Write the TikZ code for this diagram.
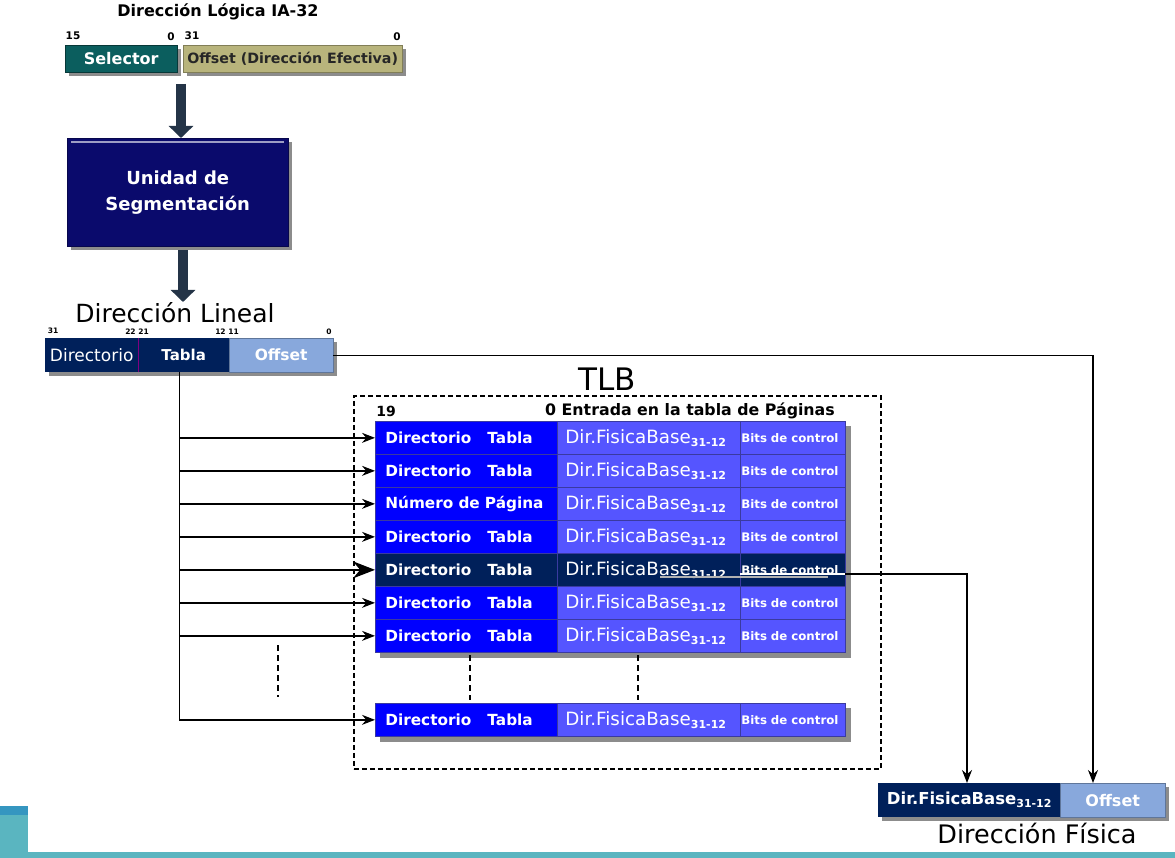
\documentclass[tikz,border=0pt]{standalone}
\usepackage{fontspec}
\setmainfont{DejaVu Sans}
\usetikzlibrary{arrows.meta,shadows}
\definecolor{selc}{HTML}{0B5E5E}
\definecolor{khaki}{HTML}{B8B47C}
\definecolor{unic}{HTML}{0A0A6C}
\definecolor{navy}{HTML}{00205A}
\definecolor{lblue}{HTML}{88A8DC}
\definecolor{tlba}{HTML}{0000FF}
\definecolor{tlbb}{HTML}{5555FF}
\definecolor{cellb}{HTML}{3A3AA0}
\definecolor{arrc}{HTML}{243447}
\definecolor{tealc}{HTML}{5AB5C0}
\definecolor{tealtop}{HTML}{3596C0}
\newcommand{\subb}{\raisebox{-3pt}{\fontsize{11}{12}\selectfont\bfseries 31-12}}
\begin{document}
\begin{tikzpicture}[x=1pt,y=-1pt,
  bit/.style={font=\bfseries\fontsize{10.5}{12}\selectfont, inner sep=0},
  tinybit/.style={font=\bfseries\fontsize{7.5}{8}\selectfont, inner sep=0},
  box/.style={anchor=north west, inner sep=0, text=white},
  shad/.style={drop shadow={shadow xshift=4pt,shadow yshift=-4pt,opacity=.45,fill=black}},
  cell/.style={anchor=north west, draw=cellb, line width=0.7pt, minimum height=33, inner ysep=0, align=left, text=white},
  conn/.style={line width=1.3pt, -{Stealth[length=13pt,width=10pt]}},
  bigconn/.style={line width=1.3pt, -{Stealth[length=22pt,width=17pt]}},
  bigarrow/.style={line width=10pt, arrc, -{Triangle[length=12pt,width=24pt]}},
  lbl/.style={inner sep=0}]
\useasboundingbox (0,0) rectangle (1175,858);

% logical address
\node[lbl, font=\bfseries\fontsize{16}{18}\selectfont] (title) at (218,12) {Dirección Lógica IA-32};
\node[bit] (b15) at (73,36) {15};
\node[bit] (b0a) at (171,37) {0};
\node[bit] (b31) at (192,36) {31};
\node[bit] (b0b) at (397,37) {0};
\node[box, shad, fill=selc, draw=selc!60!black, minimum width=112, minimum height=27, font=\bfseries\fontsize{16}{18}\selectfont] (sel) at (65,45) {Selector};
\node[box, shad, fill=khaki, draw=khaki!70!black, minimum width=219, minimum height=27, text=black!85, font=\bfseries\fontsize{14.2}{16}\selectfont] (offe) at (183,45) {Offset (Dirección Efectiva)};

\coordinate (a1s) at (181,84);
\node[box, shad, fill=unic, draw=unic!70!black, minimum width=221, minimum height=108, align=center, font=\bfseries\fontsize{18}{26}\selectfont] (uni) at (67,138) {Unidad de\\Segmentación};
\draw[unic!40!white, line width=1.5pt] ([xshift=4pt,yshift=-4pt]uni.north west) -- ([xshift=-4pt,yshift=-4pt]uni.north east);
\draw[bigarrow] (a1s) -- (a1s |- uni.north);
\coordinate (a2s) at (183,250);
\coordinate (a2e) at (183,302);
\draw[bigarrow] (a2s) -- (a2e);

% linear address
\node[lbl, font=\fontsize{25}{28}\selectfont] (lin) at (175,313) {Dirección Lineal};
\node[tinybit] (l31) at (53,331) {31};
\node[tinybit] (l22) at (137,332) {22 21};
\node[tinybit] (l12) at (227,332) {12 11};
\node[tinybit] (l0) at (329,332) {0};
\fill[black, opacity=.45] (49,342) rectangle (337,376);
\node[box, fill=navy, minimum width=93, minimum height=34, font=\fontsize{17}{18}\selectfont] (dir) at (45,338) {Directorio};
\node[box, fill=navy, minimum width=91, minimum height=34, font=\bfseries\fontsize{15}{18}\selectfont] (tab) at (138,338) {Tabla};
\node[box, fill=lblue, draw=lblue!70!black, minimum width=104, minimum height=34, font=\bfseries\fontsize{15.5}{18}\selectfont] (off) at (229,338) {Offset};
\draw[violet, line width=1.5pt] (dir.north east) -- (dir.south east);

% TLB
\node[lbl, font=\fontsize{31}{34}\selectfont] (tlb) at (607,379) {TLB};
\node[anchor=north west, draw, line width=1.6pt, dash pattern=on 5pt off 3pt, minimum width=527, minimum height=373, inner sep=0] (tlbbox) at (353,395) {};
\node[bit, font=\bfseries\fontsize{14}{16}\selectfont] (h19) at (386,411) {19};
\node[bit, anchor=west, font=\bfseries\fontsize{15.8}{17}\selectfont] (hent) at (545,411) {0 Entrada en la tabla de Páginas};

\fill[black, opacity=.45] (380,426) rectangle (851,658);
\fill[black, opacity=.45] (380,708) rectangle (851,742);

\foreach \i/\y/\lt/\fa/\fb in {
  0/421/{Directorio\hspace{1.05em}Tabla}/tlba/tlbb,
  1/454/{Directorio\hspace{1.05em}Tabla}/tlba/tlbb,
  2/487/{Número de Página}/tlba/tlbb,
  3/520/{Directorio\hspace{1.05em}Tabla}/tlba/tlbb,
  4/553/{Directorio\hspace{1.05em}Tabla}/navy/navy,
  5/586/{Directorio\hspace{1.05em}Tabla}/tlba/tlbb,
  6/619/{Directorio\hspace{1.05em}Tabla}/tlba/tlbb,
  7/703/{Directorio\hspace{1.05em}Tabla}/tlba/tlbb}{
  \node[cell, fill=\fa, inner xsep=10, text width=162, font=\bfseries\fontsize{15.3}{16}\selectfont] (r\i a) at (375,\y) {\lt};
  \node[cell, fill=\fb, inner xsep=8, text width=167, font=\fontsize{18.3}{19}\selectfont] (r\i b) at (557,\y) {Dir.FisicaBase\subb};
  \node[cell, fill=\fb, text width=103, inner xsep=1, font=\bfseries\fontsize{11.8}{12}\selectfont] (r\i c) at (740,\y) {Bits de control};
}

% connectors from Tabla
\coordinate (tabout) at ([xshift=-4pt]tab.south);
\foreach \i in {0,1,2,3,5,6,7}{
  \draw[conn] (tabout) |- (r\i a.west);
}
\draw[bigconn] (tabout) |- (r4a.west);

% ellipsis dashes
\coordinate (d1a) at (278,645); \coordinate (d1b) at (278,697);
\draw[line width=1.5pt, dash pattern=on 6pt off 4pt] (d1a) -- (d1b);
\coordinate (d2a) at (470,655); \coordinate (d2b) at (470,700);
\draw[line width=1.5pt, dash pattern=on 6pt off 4pt] (d2a) -- (d2b);
\coordinate (d3a) at (638,655); \coordinate (d3b) at (638,700);
\draw[line width=1.5pt, dash pattern=on 6pt off 4pt] (d3a) -- (d3b);

% physical address
\fill[black, opacity=.45] (882,787) rectangle (1169,821);
\node[box, fill=navy, minimum width=182, minimum height=34, font=\bfseries\fontsize{16.5}{18}\selectfont] (pdir) at (878,783) {Dir.FisicaBase\subb};
\node[box, fill=lblue, draw=lblue!70!black, minimum width=105, minimum height=34, font=\bfseries\fontsize{16}{18}\selectfont] (pof) at (1060,783) {Offset};
\node[lbl, font=\fontsize{25.5}{28}\selectfont] (fis) at (1037,833) {Dirección Física};

% connectors to physical address
\coordinate (pofin) at (1093,783);
\draw[conn] (off.east) -| (pofin);
\coordinate (selg1) at (660,577); \coordinate (selg2) at (828,577);
\draw[gray!60, line width=2pt] (selg1) -- (selg2);
\coordinate (selw1) at (740,574); \coordinate (selw2) at (845,574);
\draw[white, line width=1.2pt] (selw1) -- (selw2);
\coordinate (pdirin) at (967,783);
\draw[conn] (selw2) -| (pdirin);

% bottom decoration
\fill[tealc] (0,852) rectangle (1175,858);
\fill[tealc] (0,806) rectangle (28,858);
\fill[tealtop] (0,806) rectangle (28,815);
\end{tikzpicture}
\end{document}
